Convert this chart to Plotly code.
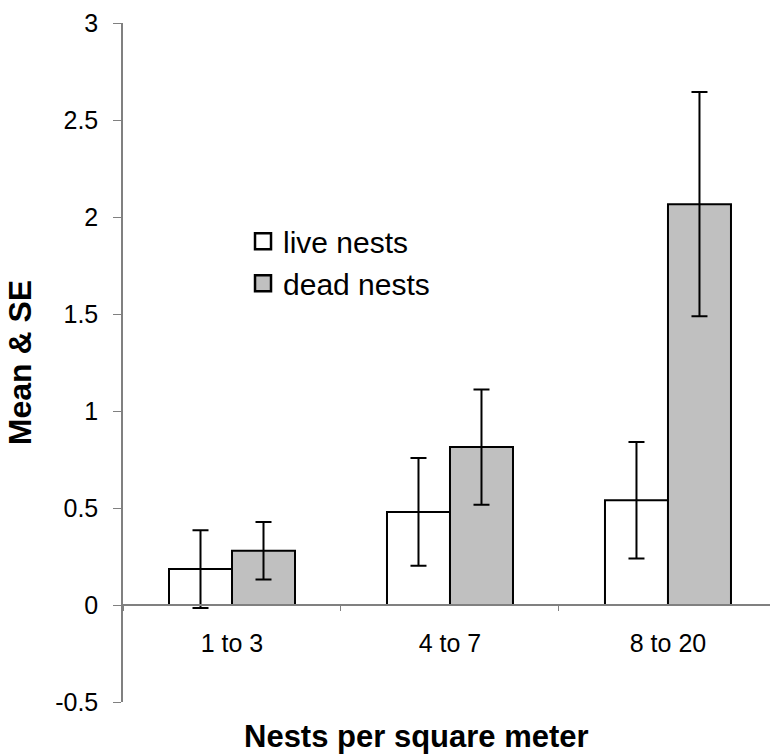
import plotly.graph_objects as go

categories = ["1 to 3", "4 to 7", "8 to 20"]
live_mean = [0.185, 0.48, 0.54]
live_se = [0.20, 0.278, 0.30]
dead_mean = [0.28, 0.814, 2.066]
dead_se = [0.148, 0.297, 0.578]
y_tickvals = [-0.5, 0, 0.5, 1, 1.5, 2, 2.5, 3]
y_ticktext = ["-0.5", "0", "0.5", "1", "1.5", "2", "2.5", "3"]

FONT = "Arial, Liberation Sans, sans-serif"
GRAY = "#808080"

y_range = [-0.5, 3]

fig = go.Figure()

err_style = dict(type="data", symmetric=True, color="black", thickness=2, width=8)

fig.add_trace(go.Bar(
    x=categories, y=live_mean, name="live nests", showlegend=False,
    marker=dict(color="white", line=dict(color="black", width=2)),
    error_y=dict(array=live_se, **err_style),
))
fig.add_trace(go.Bar(
    x=categories, y=dead_mean, name="dead nests", showlegend=False,
    marker=dict(color="#C0C0C0", line=dict(color="black", width=2)),
    error_y=dict(array=dead_se, **err_style),
))

# legend entries (larger square symbols than bar legend icons)
fig.add_trace(go.Scatter(
    x=[categories[0]], y=[None], mode="markers", name="live nests",
    marker=dict(symbol="square", size=16, color="white", line=dict(color="black", width=2.5)),
))
fig.add_trace(go.Scatter(
    x=[categories[0]], y=[None], mode="markers", name="dead nests",
    marker=dict(symbol="square", size=16, color="#C0C0C0", line=dict(color="black", width=2.5)),
))

zero_pos = (0 - y_range[0]) / (y_range[1] - y_range[0])

fig.update_layout(
    width=770, height=755,
    margin=dict(l=123, r=0, t=23, b=53, pad=0),
    paper_bgcolor="white", plot_bgcolor="white",
    font=dict(family=FONT, size=25, color="black"),
    barmode="group", bargap=0.422, bargroupgap=0,
    hovermode=False,
    showlegend=True,
    legend=dict(
        x=0.1855, y=0.717, xanchor="left", yanchor="top",
        bgcolor="rgba(0,0,0,0)", font=dict(family=FONT, size=30, color="black"),
        tracegroupgap=0,
    ),
    xaxis=dict(
        type="category", range=[-0.5, 2.468],
        anchor="free", position=zero_pos,
        showline=True, linecolor=GRAY, linewidth=1.5,
        ticks="outside", ticklen=5, tickcolor=GRAY, tickwidth=1,
        tickson="boundaries", showgrid=False, zeroline=False,
        tickfont=dict(family=FONT, size=25, color="black"),
        ticklabelstandoff=16,
    ),
    yaxis=dict(
        range=y_range, tickvals=y_tickvals, ticktext=y_ticktext,
        showline=True, linecolor=GRAY, linewidth=1.5,
        ticks="outside", ticklen=8, tickcolor=GRAY, tickwidth=1,
        showgrid=False, zeroline=False,
        tickfont=dict(family=FONT, size=25, color="black"),
        ticklabelstandoff=10,
        title=dict(text="<b>Mean & SE</b>", font=dict(family=FONT, size=32, color="black"), standoff=14),
    ),
    annotations=[dict(
        text="<b>Nests per square meter</b>", xref="paper", yref="paper",
        x=(416 - 123) / 647, y=(702 - 736) / 679, xanchor="center", yanchor="middle",
        showarrow=False, font=dict(family=FONT, size=31, color="black"),
    )],
)

fig.write_html("out.html")
